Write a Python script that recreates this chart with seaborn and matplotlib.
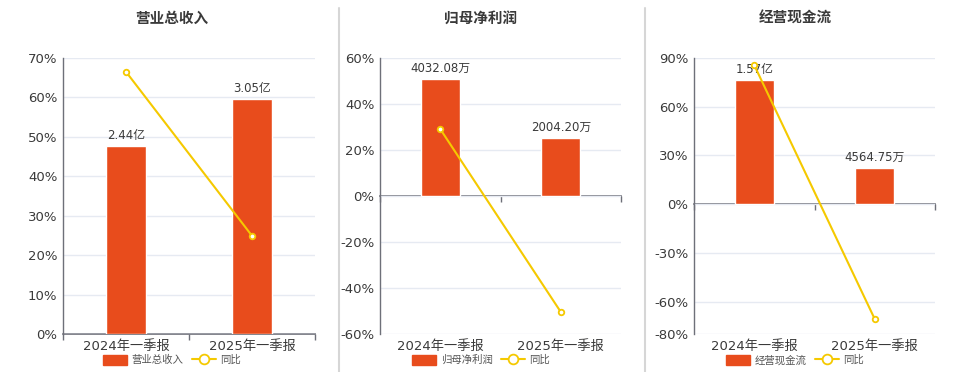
import matplotlib
matplotlib.use('Agg')
import matplotlib.pyplot as plt
import seaborn as sns
import pandas as pd
from matplotlib.patches import Patch
from matplotlib.lines import Line2D

# Data
periods = ['2024年一季报', '2025年一季报']

revenue = [2.44, 3.05]            # 亿
revenue_labels = ['2.44亿', '3.05亿']
revenue_yoy = [66.5, 24.9]        # %

profit = [4032.08, 2004.20]       # 万
profit_labels = ['4032.08万', '2004.20万']
profit_yoy = [29.1, -50.4]

cashflow = [15700.0, 4564.75]     # 万
cashflow_labels = ['1.57亿', '4564.75万']
cashflow_yoy = [85.6, -70.8]

titles = ['营业总收入', '归母净利润', '经营现金流']

BAR = '#E84C1C'
LINE = '#F5C900'
TXT = '#3A3A3A'
AXC = '#6E7079'
GRID = '#E6EAF2'

sns.set_theme(style='white')
plt.rcParams['font.family'] = ['DejaVu Sans', 'Noto Sans CJK SC']

fig = plt.figure(figsize=(9.6, 3.72), dpi=100)

H = 276 / 372
B = 38 / 372

# panel setup: axes rect, pct limits, pct ticks, bar-axis limits, title/legend center
panels = [
    dict(rect=[63 / 960, B, 252 / 960, H], ylim=(0, 70), ticks=[0, 10, 20, 30, 40, 50, 60, 70],
         blim=(0, 3.05 * 70 / 59.6), bars=revenue, labels=revenue_labels, yoy=revenue_yoy, cx=172),
    dict(rect=[380 / 960, B, 241 / 960, H], ylim=(-60, 60), ticks=[-60, -40, -20, 0, 20, 40, 60],
         blim=(-4032.08 * 60 / 50.9, 4032.08 * 60 / 50.9), bars=profit, labels=profit_labels,
         yoy=profit_yoy, cx=481),
    dict(rect=[694 / 960, B, 241 / 960, H], ylim=(-80, 90), ticks=[-80, -60, -30, 0, 30, 60, 90],
         blim=(-15700 * 80 / 76.4, 15700 * 90 / 76.4), bars=cashflow, labels=cashflow_labels,
         yoy=cashflow_yoy, cx=795),
]

for i, p in enumerate(panels):
    ax = fig.add_axes(p['rect'])
    ax.set_xlim(-0.5, 1.5)
    ax.set_ylim(*p['ylim'])
    ax.set_yticks(p['ticks'])
    ax.set_yticklabels([f'{t}%' for t in p['ticks']], fontsize=9.5, color=TXT)
    ax.tick_params(axis='y', length=0, pad=4)
    ax.grid(axis='y', color=GRID, linewidth=1)
    ax.set_xticks([0, 1])
    ax.set_xticklabels(periods, fontsize=9.5, color=TXT)
    ax.tick_params(axis='x', length=0, pad=4)
    for s in ['top', 'right', 'bottom']:
        ax.spines[s].set_visible(False)
    ax.spines['left'].set_color(AXC)
    ax.spines['left'].set_linewidth(1)

    # x axis line at zero with boundary ticks
    sec = ax.secondary_xaxis(0, transform=ax.transData)
    sec.set_xticks([-0.5, 0.5, 1.5])
    sec.set_xticklabels(['', '', ''])
    sec.tick_params(axis='x', direction='out', length=4, width=1, color=AXC)
    sec.spines['bottom'].set_color(AXC)
    sec.spines['bottom'].set_linewidth(1.2)

    # bars on their own hidden scale
    axb = ax.twinx()
    df = pd.DataFrame({'period': periods, 'value': p['bars']})
    sns.barplot(data=df, x='period', y='value', ax=axb, color=BAR, saturation=1, width=0.32)
    axb.set_xlim(-0.5, 1.5)
    axb.set_ylim(*p['blim'])
    axb.bar_label(axb.containers[0], labels=p['labels'], padding=3, fontsize=8.5, color=TXT)
    axb.axis('off')

    # yoy line on top
    axl = ax.twinx()
    dl = pd.DataFrame({'period': periods, 'yoy': p['yoy']})
    sns.pointplot(data=dl, x='period', y='yoy', ax=axl, color=LINE, errorbar=None,
                  markers='o', markersize=4, linewidth=1.5, markerfacecolor='white',
                  markeredgewidth=1.3)
    axl.set_xlim(-0.5, 1.5)
    axl.set_ylim(*p['ylim'])
    axl.axis('off')

    fig.text(p['cx'] / 960, 1 - 18 / 372, titles[i], ha='center', va='center',
             fontsize=10.5, fontweight='bold', color=TXT, family=['Noto Sans CJK SC'])

    handles = [Patch(facecolor=BAR, edgecolor=BAR),
               Line2D([0], [0], color=LINE, lw=1.5, marker='o', markersize=7,
                      markerfacecolor='white', markeredgewidth=1.3)]
    fig.legend(handles, [titles[i], '同比'], loc='center', ncol=2,
               bbox_to_anchor=(p['cx'] / 960, 1 - 360 / 372), frameon=False,
               handlelength=2.3, handleheight=1.1, columnspacing=0.8,
               handletextpad=0.4, labelcolor='#555555',
               prop={'family': ['Noto Sans CJK SC'], 'size': 7.5})

# panel separators
for x in [339, 645]:
    fig.add_artist(Line2D([x / 960, x / 960], [0, 1 - 8 / 372], transform=fig.transFigure,
                          color='#D6D6D6', linewidth=1.5))

fig.savefig('out.png', dpi=100)
